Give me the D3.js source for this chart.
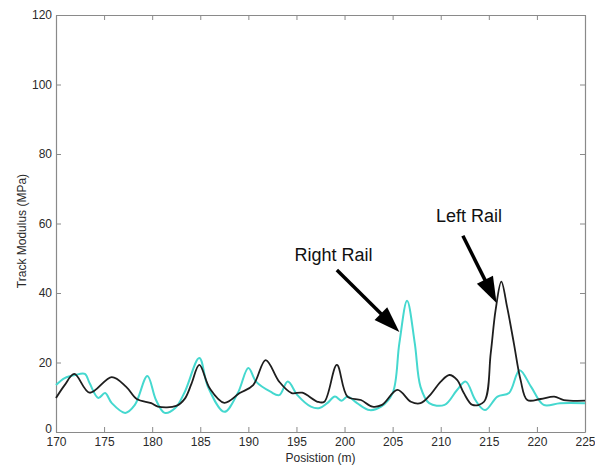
<!DOCTYPE html>
<html>
<head>
<meta charset="utf-8">
<script src="https://cdn.jsdelivr.net/npm/d3@7"></script>
<style>
  html, body { margin: 0; padding: 0; background: #fff; }
  svg { display: block; font-family: Arial, "Liberation Sans", sans-serif; }
</style>
</head>
<body>
<svg id="chart" width="595" height="466"></svg>
<script>
// Track modulus along the test section, left and right rails
const leftPos = [170, 170.9, 171.9, 173.5, 175.8, 177.3, 178.4, 179.9, 180.6, 182.5, 183.4, 184.1, 184.9, 186.0, 187.5, 189.1, 190.5, 191.8, 193.2, 194.5, 195.6, 197.2, 197.9, 199.2, 200.3, 201.7, 202.9, 203.9, 205.5, 206.9, 207.9, 209.0, 210.0, 210.9, 211.7, 212.4, 213.3, 214.5, 215.2, 215.7, 216.3, 216.9, 217.6, 218.3, 219.0, 220.4, 221.8, 222.8, 225];
const leftVal = [9.8, 13.5, 16.7, 11.3, 15.8, 13.0, 9.5, 8.3, 7.3, 7.5, 9.6, 14.0, 19.3, 12.5, 8.4, 11.2, 13.5, 20.7, 14.5, 11.2, 11.3, 8.7, 8.7, 19.3, 10.2, 9.2, 7.3, 7.8, 12.1, 8.7, 8.3, 11.0, 14.5, 16.4, 15.0, 11.2, 7.8, 8.7, 22.7, 35.0, 43.3, 36.0, 25.6, 15.0, 9.2, 9.5, 10.2, 9.2, 9.0];

const rightPos = [170, 170.9, 172.0, 173.0, 173.5, 174.4, 175.1, 175.8, 177.2, 178.2, 179.5, 180.4, 181.3, 182.4, 183.4, 184.9, 185.8, 187.5, 188.9, 190.0, 190.8, 192.3, 193.2, 194.1, 195.1, 196.5, 197.4, 198.2, 199.0, 199.7, 200.3, 201.3, 202.6, 203.8, 205.0, 205.7, 206.5, 207.3, 207.9, 208.8, 210.4, 211.7, 212.6, 213.6, 214.6, 215.9, 217.1, 218.2, 219.4, 220.7, 222.4, 225];
const rightVal = [13.5, 15.5, 16.4, 16.7, 14.0, 9.8, 11.2, 8.3, 5.5, 7.8, 16.1, 9.2, 5.5, 6.9, 11.6, 21.3, 13.0, 5.8, 11.2, 18.4, 14.5, 11.6, 10.6, 14.5, 10.6, 7.3, 6.9, 8.3, 10.2, 9.0, 10.2, 8.3, 6.3, 7.3, 11.2, 25.6, 37.8, 25.6, 13.0, 8.3, 7.8, 12.1, 14.5, 9.2, 6.3, 10.2, 11.2, 17.8, 13.0, 7.8, 8.3, 8.3];

const xTicks = [170, 175, 180, 185, 190, 195, 200, 205, 210, 215, 220, 225];
const yTicks = [0, 20, 40, 60, 80, 100, 120];

// Callouts: label anchor and arrow (tail -> head) in data units
const callouts = [
  { text: "Right Rail", tx: 194.8, ty: 49.2, x1: 199.2, y1: 46.6, x2: 205.7, y2: 28.8 },
  { text: "Left Rail",  tx: 209.5, ty: 60.4, x1: 212.3, y1: 56.5, x2: 215.8, y2: 37.1 }
];

const svg = d3.select("#chart");
const m = { left: 56, right: 10, top: 15, bottom: 34 };
const W = 595, H = 466;

const x = d3.scaleLinear().domain([170, 225]).range([m.left, W - m.right]);
const y = d3.scaleLinear().domain([0, 120]).range([H - m.bottom, m.top]);

const axisColor = "#8a8a8a";
const tickLen = 5;

// Axes (MATLAB style: inward ticks on all four sides)
const gx = svg.append("g").attr("transform", `translate(0,${y(0)})`)
  .call(d3.axisBottom(x).tickValues(xTicks).tickSizeInner(-tickLen).tickSizeOuter(0).tickPadding(5));
const gxTop = svg.append("g").attr("transform", `translate(0,${y(120)})`)
  .call(d3.axisTop(x).tickValues(xTicks).tickSizeInner(-tickLen).tickSizeOuter(0).tickFormat(""));
const gy = svg.append("g").attr("transform", `translate(${x(170)},0)`)
  .call(d3.axisLeft(y).tickValues(yTicks).tickSizeInner(-tickLen).tickSizeOuter(0).tickPadding(4));
const gyR = svg.append("g").attr("transform", `translate(${x(225)},0)`)
  .call(d3.axisRight(y).tickValues(yTicks).tickSizeInner(-tickLen).tickSizeOuter(0).tickFormat(""));

[gx, gxTop, gy, gyR].forEach(g => {
  g.select(".domain").attr("stroke", axisColor).attr("stroke-width", 1.2);
  g.selectAll(".tick line").attr("stroke", axisColor);
  g.selectAll(".tick text").attr("fill", "#2a2a2a").style("font-size", "12px");
});
// the "0" label sits a little above the corner so it clears "170"
gy.selectAll(".tick text").filter(d => d === 0).attr("dy", "0.05em");

// Data lines
const line = d3.line()
  .x(d => x(d[0]))
  .y(d => y(d[1]))
  .curve(d3.curveCatmullRom.alpha(0.5));

const plot = svg.append("g");
plot.append("path")
  .datum(rightPos.map((p, i) => [p, rightVal[i]]))
  .attr("d", line)
  .attr("fill", "none")
  .attr("stroke", "#45d8cf")
  .attr("stroke-width", 2);

plot.append("path")
  .datum(leftPos.map((p, i) => [p, leftVal[i]]))
  .attr("d", line)
  .attr("fill", "none")
  .attr("stroke", "#1e1e1e")
  .attr("stroke-width", 1.8);

// Axis titles
svg.append("text")
  .attr("x", (x(170) + x(225)) / 2)
  .attr("y", 462)
  .attr("text-anchor", "middle")
  .attr("fill", "#2a2a2a")
  .style("font-size", "12px")
  .text("Posistion (m)");

svg.append("text")
  .attr("transform", `translate(26,231) rotate(-90)`)
  .attr("text-anchor", "middle")
  .attr("fill", "#2a2a2a")
  .style("font-size", "12px")
  .text("Track Modulus (MPa)");

// Callout labels with arrows
const head = 26, halfW = 9;
callouts.forEach(c => {
  svg.append("text")
    .attr("x", x(c.tx))
    .attr("y", y(c.ty))
    .attr("fill", "#111")
    .style("font-size", "18px")
    .text(c.text);

  const X1 = x(c.x1), Y1 = y(c.y1), X2 = x(c.x2), Y2 = y(c.y2);
  const dx = X2 - X1, dy = Y2 - Y1, L = Math.hypot(dx, dy);
  const ux = dx / L, uy = dy / L;
  const bx = X2 - ux * head, by = Y2 - uy * head;
  svg.append("line")
    .attr("x1", X1).attr("y1", Y1)
    .attr("x2", bx + ux * 2).attr("y2", by + uy * 2)
    .attr("stroke", "#000").attr("stroke-width", 3.5);
  svg.append("path")
    .attr("d", `M${X2},${Y2}L${bx - uy * halfW},${by + ux * halfW}L${bx + uy * halfW},${by - ux * halfW}Z`)
    .attr("fill", "#000");
});
</script>
</body>
</html>
